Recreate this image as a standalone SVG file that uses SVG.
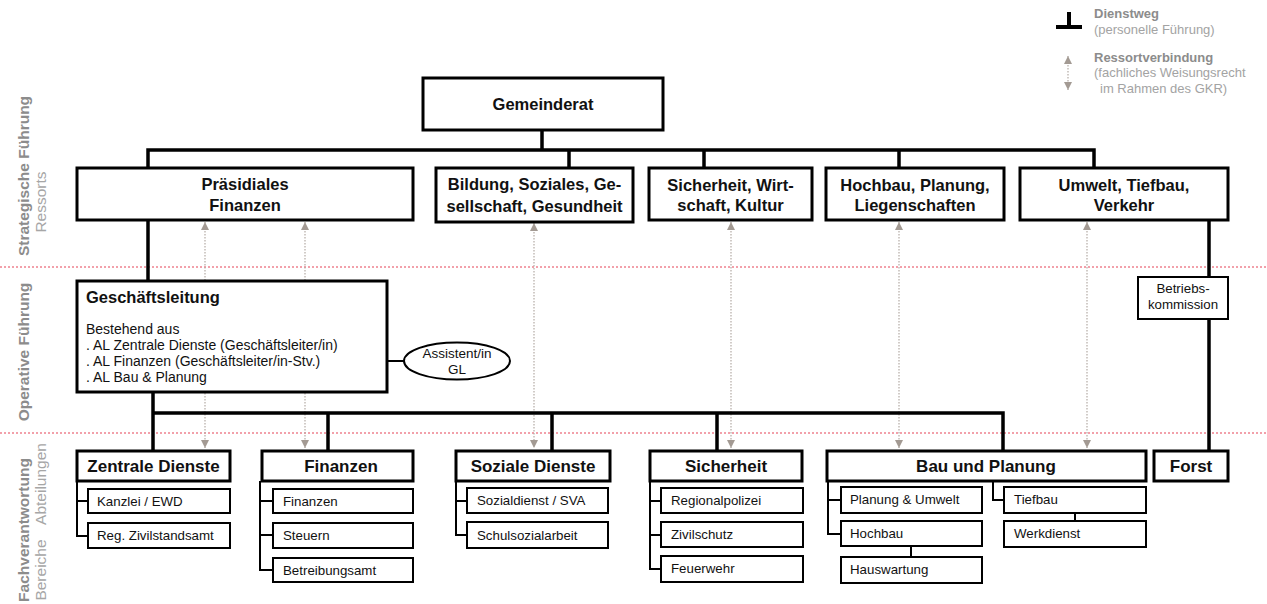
<svg xmlns="http://www.w3.org/2000/svg" width="1267" height="604" viewBox="0 0 1267 604">
<style>
text{font-family:"Liberation Sans",Arial,sans-serif;fill:#111}
.box{fill:#fff;stroke:#000;stroke-width:3}
.sub{fill:#fff;stroke:#000;stroke-width:2}
.ln{stroke:#000;stroke-width:3.5;fill:none}
.sl{stroke:#000;stroke-width:2;fill:none}
.dot{stroke:#b3aaa4;stroke-width:1.2;stroke-dasharray:1.5 1.5;fill:none}
.sep{stroke:#f2a0aa;stroke-width:2;stroke-dasharray:2 2}
.h1{font-size:16.5px;font-weight:bold;text-anchor:middle}
.h2{font-size:17px;font-weight:bold;text-anchor:middle}
.st{font-size:13.3px}
.gl{font-size:14px}
.lb{font-size:15.5px;font-weight:bold;fill:#8c8c8c;text-anchor:middle}
.lr{font-size:15.5px;fill:#a6a6a6;text-anchor:middle}
.legb{font-size:13px;font-weight:bold;fill:#8c8c8c}
.legr{font-size:13px;fill:#a3a3a3}
</style>
<defs>
<marker id="ah" viewBox="0 0 8 8" refX="8" refY="4" markerWidth="8" markerHeight="8" markerUnits="userSpaceOnUse" orient="auto-start-reverse">
<path d="M0,0 L8,4 L0,8 z" fill="#a39a93"/>
</marker>
</defs>

<g id="separators">
<line class="sep" x1="0" y1="267" x2="1267" y2="267"/>
<line class="sep" x1="0" y1="433" x2="1267" y2="433"/>
</g>

<g id="side-labels">
<text class="lb" transform="translate(29,176) rotate(-90)">Strategische Führung</text>
<text class="lr" transform="translate(46,202) rotate(-90)">Ressorts</text>
<text class="lb" transform="translate(29,352) rotate(-90)">Operative Führung</text>
<text class="lb" transform="translate(29,530) rotate(-90)">Fachverantwortung</text>
<text class="lr" transform="translate(46,484) rotate(-90)">Abteilungen</text>
<text class="lr" transform="translate(46,570) rotate(-90)">Bereiche</text>
</g>

<g id="legend">
<path class="ln" d="M1069,12 V27 M1056,27 H1082" style="stroke-width:4"/>
<text class="legb" x="1094" y="18">Dienstweg</text>
<text class="legr" x="1094" y="34">(personelle Führung)</text>
<line class="dot" x1="1068" y1="56" x2="1068" y2="90" marker-start="url(#ah)" marker-end="url(#ah)"/>
<text class="legb" x="1094" y="62">Ressortverbindung</text>
<text class="legr" x="1094" y="77">(fachliches Weisungsrecht</text>
<text class="legr" x="1100" y="93">im Rahmen des GKR)</text>
</g>

<g id="connectors">
<line class="dot" x1="205" y1="222" x2="205" y2="448" marker-start="url(#ah)" marker-end="url(#ah)"/>
<line class="dot" x1="305" y1="222" x2="305" y2="448" marker-start="url(#ah)" marker-end="url(#ah)"/>
<line class="dot" x1="534" y1="223" x2="534" y2="448" marker-start="url(#ah)" marker-end="url(#ah)"/>
<line class="dot" x1="731" y1="222" x2="731" y2="448" marker-start="url(#ah)" marker-end="url(#ah)"/>
<line class="dot" x1="899" y1="222" x2="899" y2="448" marker-start="url(#ah)" marker-end="url(#ah)"/>
<line class="dot" x1="1087" y1="222" x2="1087" y2="448" marker-start="url(#ah)" marker-end="url(#ah)"/>
<path class="ln" d="M542,130 V150 M148,168 V150 H1094 V168 M569,150 V168 M704,150 V168 M899,150 V168"/>
<path class="ln" d="M148,220 V281"/>
<path class="ln" d="M153,392 V451 M153,413 H1003 V451 M328,413 V451 M552,413 V451 M717,413 V451"/>
<path class="ln" d="M1209,220 V277 M1209,319 V451"/>
<path class="sl" d="M387,361 H404"/>
<path class="sl" d="M77,481 V536 H88 M77,501 H88"/>
<path class="sl" d="M260,481 V570 H273 M260,501 H273 M260,535 H273"/>
<path class="sl" d="M456,481 V535 H467 M456,501 H467"/>
<path class="sl" d="M650,481 V569 H661 M650,501 H661 M650,535 H661"/>
<path class="sl" d="M828,481 V534 H841 M828,500 H841 M911,546 V557"/>
<path class="sl" d="M993,481 V500 H1004 M1075,513 V521"/>
</g>

<g id="gemeinderat">
<rect class="box" x="423" y="78" width="240" height="52"/>
<text class="h1" x="543" y="110">Gemeinderat</text>
</g>

<g id="ressort-praesidiales">
<rect class="box" x="77" y="168" width="336" height="52"/>
<text class="h1" x="245" y="190">Präsidiales</text>
<text class="h1" x="245" y="211">Finanzen</text>
</g>
<g id="ressort-bildung">
<rect class="box" x="436" y="168" width="197" height="54"/>
<text class="h1" x="534.5" y="190">Bildung, Soziales, Ge-</text>
<text class="h1" x="534.5" y="212">sellschaft, Gesundheit</text>
</g>
<g id="ressort-sicherheit">
<rect class="box" x="649" y="168" width="163" height="52"/>
<text class="h1" x="730.5" y="191">Sicherheit, Wirt-</text>
<text class="h1" x="730.5" y="211">schaft, Kultur</text>
</g>
<g id="ressort-hochbau">
<rect class="box" x="826" y="168" width="178" height="52"/>
<text class="h1" x="915" y="191">Hochbau, Planung,</text>
<text class="h1" x="915" y="211">Liegenschaften</text>
</g>
<g id="ressort-umwelt">
<rect class="box" x="1020" y="168" width="208" height="52"/>
<text class="h1" x="1124" y="191">Umwelt, Tiefbau,</text>
<text class="h1" x="1124" y="211">Verkehr</text>
</g>

<g id="geschaeftsleitung">
<rect class="box" x="77" y="281" width="310" height="111"/>
<text x="86" y="303" style="font-size:16.5px;font-weight:bold">Geschäftsleitung</text>
<text class="gl" x="86" y="334">Bestehend aus</text>
<text class="gl" x="86" y="350">. AL Zentrale Dienste (Geschäftsleiter/in)</text>
<text class="gl" x="86" y="366">. AL Finanzen (Geschäftsleiter/in-Stv.)</text>
<text class="gl" x="86" y="382">. AL Bau &amp; Planung</text>
</g>

<g id="assistent">
<ellipse cx="457" cy="361" rx="53" ry="18.5" fill="#fff" stroke="#000" stroke-width="2"/>
<text x="457" y="358" style="font-size:13.5px;text-anchor:middle">Assistent/in</text>
<text x="457" y="374" style="font-size:13.5px;text-anchor:middle">GL</text>
</g>

<g id="betriebskommission">
<rect class="sub" x="1138" y="277" width="90" height="42"/>
<text class="st" x="1183" y="293" text-anchor="middle">Betriebs-</text>
<text class="st" x="1183" y="309" text-anchor="middle">kommission</text>
</g>

<g id="abt-zentrale">
<rect class="box" x="77" y="451" width="153" height="30"/>
<text class="h2" x="153.5" y="472">Zentrale Dienste</text>
<rect class="sub" x="88" y="489" width="142" height="24"/>
<text class="st" x="97" y="506">Kanzlei / EWD</text>
<rect class="sub" x="88" y="523" width="142" height="25"/>
<text class="st" x="97" y="540">Reg. Zivilstandsamt</text>
</g>

<g id="abt-finanzen">
<rect class="box" x="262" y="451" width="151" height="30"/>
<text class="h2" x="341" y="472">Finanzen</text>
<rect class="sub" x="273" y="489" width="140" height="24"/>
<text class="st" x="283" y="506">Finanzen</text>
<rect class="sub" x="273" y="523" width="140" height="25"/>
<text class="st" x="283" y="540">Steuern</text>
<rect class="sub" x="273" y="558" width="140" height="24"/>
<text class="st" x="283" y="575">Betreibungsamt</text>
</g>

<g id="abt-soziale">
<rect class="box" x="456" y="451" width="154" height="30"/>
<text class="h2" x="533" y="472">Soziale Dienste</text>
<rect class="sub" x="467" y="488" width="141" height="25"/>
<text class="st" x="477" y="505">Sozialdienst / SVA</text>
<rect class="sub" x="467" y="522" width="141" height="26"/>
<text class="st" x="477" y="540">Schulsozialarbeit</text>
</g>

<g id="abt-sicherheit">
<rect class="box" x="650" y="451" width="152" height="30"/>
<text class="h2" x="726" y="472">Sicherheit</text>
<rect class="sub" x="661" y="488" width="142" height="25"/>
<text class="st" x="671" y="505">Regionalpolizei</text>
<rect class="sub" x="661" y="522" width="142" height="25"/>
<text class="st" x="671" y="539">Zivilschutz</text>
<rect class="sub" x="661" y="556" width="142" height="26"/>
<text class="st" x="671" y="573">Feuerwehr</text>
</g>

<g id="abt-bau">
<rect class="box" x="827" y="451" width="319" height="30"/>
<text class="h2" x="986" y="472">Bau und Planung</text>
<rect class="sub" x="841" y="487" width="141" height="26"/>
<text class="st" x="850" y="504">Planung &amp; Umwelt</text>
<rect class="sub" x="841" y="521" width="141" height="25"/>
<text class="st" x="850" y="538">Hochbau</text>
<rect class="sub" x="841" y="557" width="141" height="26"/>
<text class="st" x="850" y="574">Hauswartung</text>
<rect class="sub" x="1004" y="487" width="142" height="26"/>
<text class="st" x="1014" y="504">Tiefbau</text>
<rect class="sub" x="1004" y="521" width="142" height="26"/>
<text class="st" x="1014" y="538">Werkdienst</text>
</g>

<g id="abt-forst">
<rect class="box" x="1154" y="451" width="74" height="30"/>
<text class="h2" x="1191" y="472">Forst</text>
</g>
</svg>
